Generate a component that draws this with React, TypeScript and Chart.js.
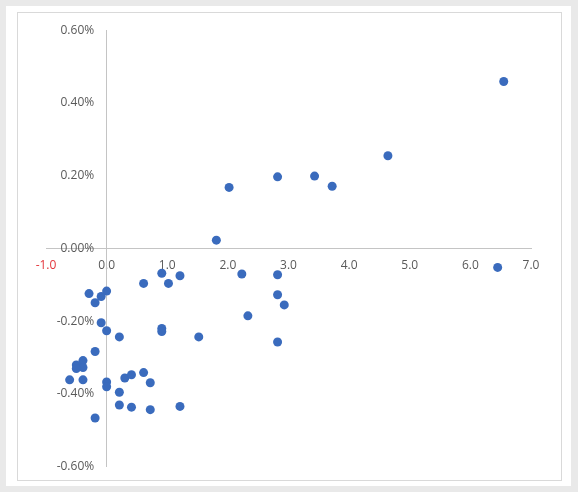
import React, { useEffect, useRef } from "react";
import { Chart, registerables } from "chart.js";

Chart.register(...registerables);

const xValues: number[] = [
  0.91, 1.21, 0.61, 1.02, -0.29, 0.0, -0.09, -0.19, -0.09, 0.0, 0.21, 0.91, 0.91, 1.52, -0.19,
  -0.39, -0.5, -0.39, -0.5, -0.61, -0.39, 0.0, 0.0, 0.3, 0.41, 0.61, 0.72, 0.21, 0.21, 0.41,
  0.72, 1.21, -0.19, 2.02, 2.82, 3.43, 1.81, 2.23, 2.82, 2.82, 2.93, 2.33, 2.82, 3.72, 4.64,
  6.55, 6.45,
];
const yValues: number[] = [
  -0.068, -0.075, -0.096, -0.096, -0.124, -0.117, -0.132, -0.149, -0.204, -0.226, -0.243, -0.22,
  -0.228, -0.243, -0.283, -0.308, -0.32, -0.327, -0.33, -0.361, -0.361, -0.367, -0.38, -0.356,
  -0.347, -0.341, -0.369, -0.395, -0.43, -0.436, -0.443, -0.434, -0.466, 0.168, 0.197, 0.199,
  0.023, -0.07, -0.072, -0.127, -0.155, -0.185, -0.257, 0.171, 0.255, 0.459, -0.052,
];

const xMin = -1;
const xMax = 7;
const yMin = -0.6;
const yMax = 0.6;

export default function App() {
  const ref = useRef<HTMLCanvasElement | null>(null);

  useEffect(() => {
    if (!ref.current) return;
    const points = xValues.map((x, i) => ({ x, y: yValues[i] }));
    const chart = new Chart(ref.current, {
      type: "scatter",
      data: {
        datasets: [
          {
            data: points,
            backgroundColor: "#3a6bbd",
            borderColor: "#3a6bbd",
            pointRadius: 4.5,
            pointHoverRadius: 4.5,
            borderWidth: 0,
          },
        ],
      },
      options: {
        animation: false,
        responsive: false,
        maintainAspectRatio: false,
        layout: { padding: { left: 28, right: 29, top: 14, bottom: 7 } },
        plugins: { legend: { display: false }, tooltip: { enabled: false } },
        scales: {
          x: {
            type: "linear",
            min: xMin,
            max: xMax,
            position: { y: 0 },
            grid: { display: false, drawTicks: false },
            border: { display: true, color: "#c4c4c4", width: 1 },
            ticks: {
              stepSize: 1,
              padding: 10,
              font: { family: "'Open Sans'", size: 12 },
              color: (ctx: any) => (ctx.tick && ctx.tick.value === -1 ? "#e3343a" : "#595959"),
              callback: (v: any) => Number(v).toFixed(1),
            },
          },
          y: {
            type: "linear",
            min: yMin,
            max: yMax,
            position: { x: 0 },
            grid: { display: false, drawTicks: false },
            border: { display: true, color: "#c4c4c4", width: 1 },
            ticks: {
              stepSize: 0.2,
              padding: 12,
              font: { family: "'Open Sans'", size: 12 },
              color: "#595959",
              callback: (v: any) => (Math.round(Number(v) * 100) / 100).toFixed(2) + "%    ",
            },
          },
        },
      },
    });
    return () => chart.destroy();
  }, []);

  return (
    <div style={{ position: "fixed", left: 0, top: 0, width: 578, height: 492, background: "#e9e9e9" }}>
      <div style={{ position: "absolute", left: 6, top: 6, width: 565, height: 480, background: "#ffffff" }} />
      <div
        style={{
          position: "absolute",
          left: 17,
          top: 12,
          width: 543,
          height: 467,
          border: "1px solid #d9d9d9",
          background: "#ffffff",
        }}
      />
      <canvas
        ref={ref}
        width={542}
        height={475}
        style={{ position: "absolute", left: 18, top: 11, display: "block", width: 542, height: 475 }}
      />
    </div>
  );
}
